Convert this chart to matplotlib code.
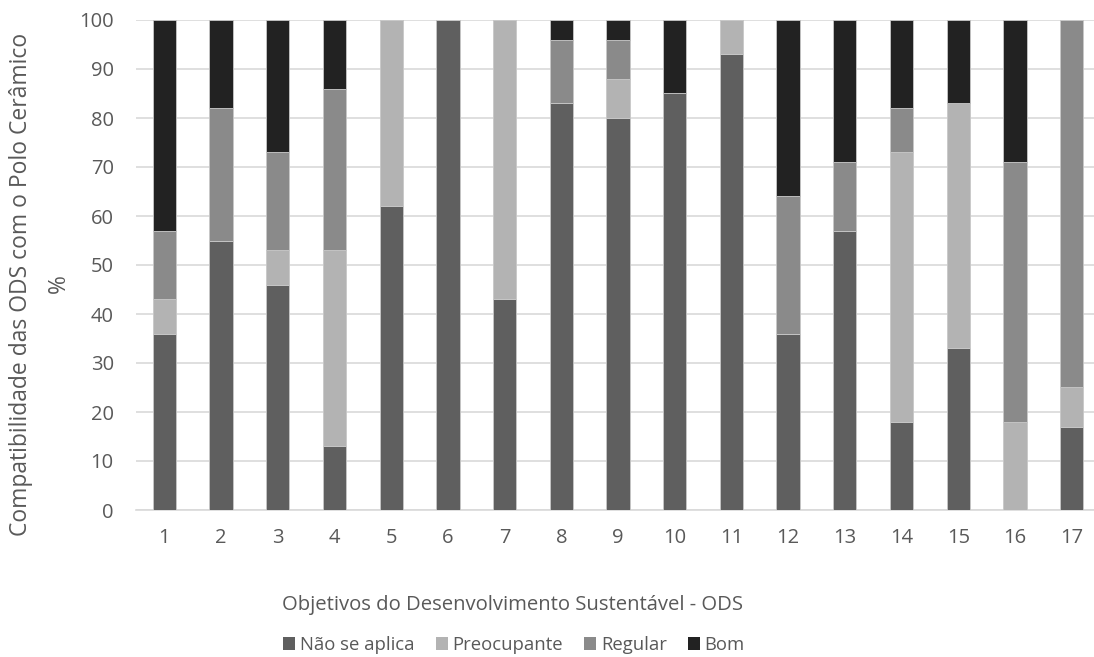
import numpy as np
import matplotlib.pyplot as plt
from matplotlib.patches import Patch

plt.rcParams['font.family'] = ['Open Sans', 'DejaVu Sans']

# dados
ods = [str(i) for i in range(1, 18)]
nao_se_aplica = [36, 55, 46, 13, 62, 100, 43, 83, 80, 85, 93, 36, 57, 18, 33, 0, 17]
preocupante = [7, 0, 7, 40, 38, 0, 57, 0, 8, 0, 7, 0, 0, 55, 50, 18, 8]
regular = [14, 27, 20, 33, 0, 0, 0, 13, 8, 0, 0, 28, 14, 9, 0, 53, 75]
bom = [43, 18, 27, 14, 0, 0, 0, 4, 4, 15, 0, 36, 29, 18, 17, 29, 0]

series = [
    ('Não se aplica', nao_se_aplica, '#5f5f5f'),
    ('Preocupante', preocupante, '#b3b3b3'),
    ('Regular', regular, '#8a8a8a'),
    ('Bom', bom, '#222222'),
]

fig = plt.figure(figsize=(10.94, 6.57), dpi=100)
ax = fig.add_axes([136 / 1094, 1 - 510 / 657, (1100 - 136) / 1094, 490 / 657])

x = np.arange(len(ods))
base = np.zeros(len(ods))
for nome, vals, cor in series:
    vals = np.array(vals, dtype=float)
    ax.bar(x, vals, width=0.41, bottom=base, color=cor, edgecolor='#c8c8c8',
           linewidth=0.6, label=nome, zorder=3)
    base += vals

ax.set_xlim(-0.5, len(ods) - 0.5)
ax.set_ylim(0, 100)
ax.set_yticks(range(0, 101, 10))
ax.set_xticks(x)
ax.set_xticklabels(ods)
ax.yaxis.grid(True, color='#d9d9d9', linewidth=1.2, zorder=0)
ax.set_axisbelow(True)
for s in ['top', 'right', 'left']:
    ax.spines[s].set_visible(False)
ax.spines['bottom'].set_color('#d9d9d9')
ax.spines['bottom'].set_linewidth(1.2)
ax.tick_params(axis='both', length=0, labelsize=14.5, colors='#595959')
ax.tick_params(axis='x', pad=13)
ax.tick_params(axis='y', pad=16)

cor_txt = '#595959'
fig.text(21 / 1094, 1 - 284 / 657, 'Compatibilidade das ODS com o Polo Cerâmico',
         rotation=90, ha='center', va='center', fontsize=16.5, color=cor_txt)
fig.text(59 / 1094, 1 - 284 / 657, '%', rotation=90, ha='center', va='center',
         fontsize=16.5, color=cor_txt)
fig.text(513 / 1094, 1 - 605 / 657, 'Objetivos do Desenvolvimento Sustentável - ODS',
         ha='center', va='center', fontsize=14.6, color=cor_txt)

handles = [Patch(facecolor=c, edgecolor='none') for _, _, c in series]
fig.legend(handles, [n for n, _, _ in series], loc='center', ncol=4,
           bbox_to_anchor=(514 / 1094, 1 - 645 / 657), frameon=False,
           fontsize=13.3, labelcolor=cor_txt, handlelength=0.65, handleheight=0.65,
           handletextpad=0.25, columnspacing=1.15, borderpad=0)

fig.savefig('out.png', dpi=100)
